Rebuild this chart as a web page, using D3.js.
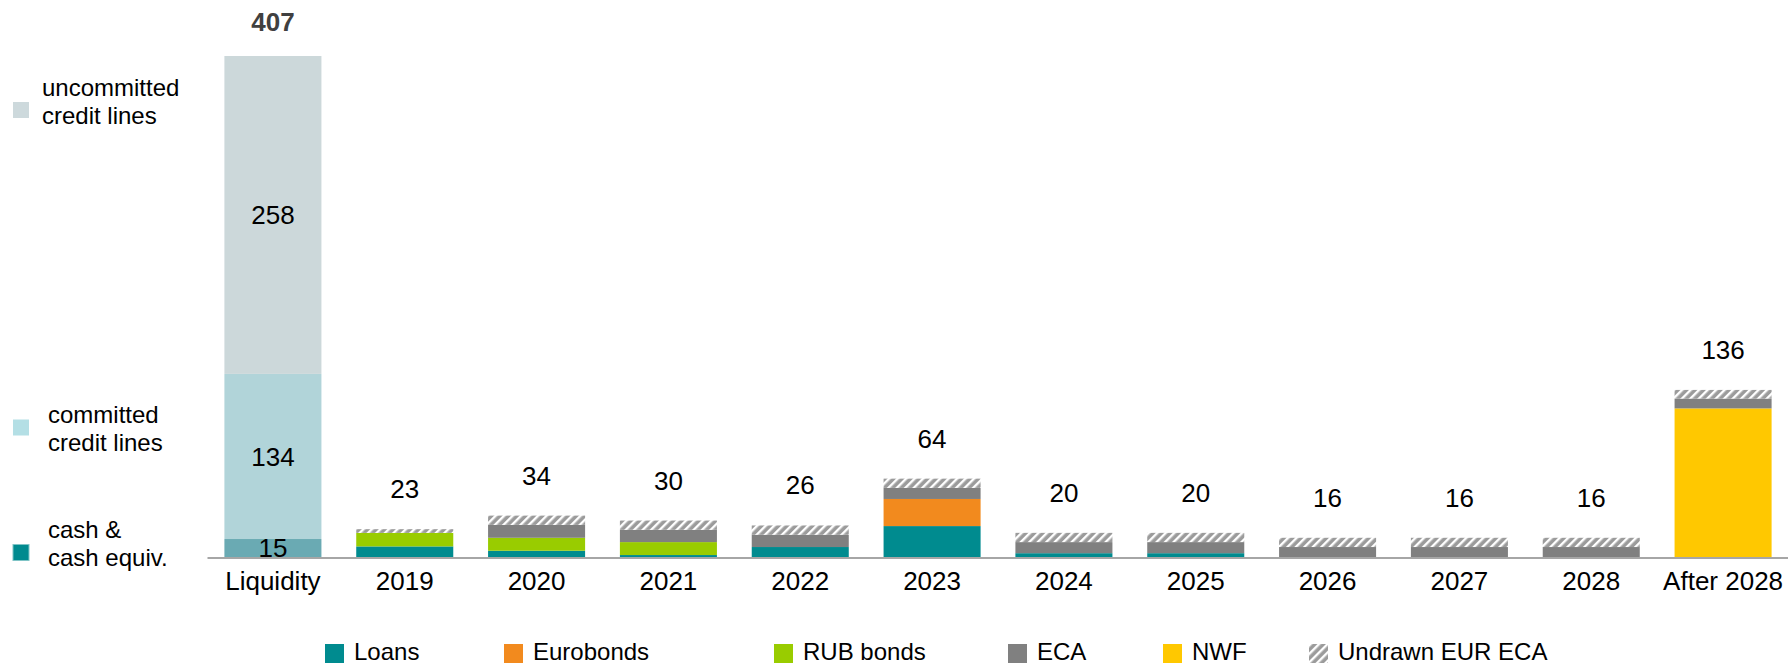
<!DOCTYPE html>
<html>
<head>
<meta charset="utf-8">
<script src="https://cdnjs.cloudflare.com/ajax/libs/d3/7.8.5/d3.min.js"></script>
<style>
  body { margin: 0; background: #fff; }
  svg text { font-family: "Liberation Sans", Arial, sans-serif; }
</style>
</head>
<body>
<div id="chart"></div>
<script>
// ---- data ----
const categories = ["Liquidity", "2019", "2020", "2021", "2022", "2023", "2024", "2025", "2026", "2027", "2028", "After 2028"];
const years = categories.slice(1);

// repayment schedule, per year
const loans     = [9, 5.5, 2, 8.5, 25.5, 3.5, 3.5, 0, 0, 0, 0];
const eurobonds = [0, 0, 0, 0, 22, 0, 0, 0, 0, 0, 0];
const rubBonds  = [11, 10.5, 10.5, 0, 0, 0, 0, 0, 0, 0, 0];
const nwf       = [0, 0, 0, 0, 0, 0, 0, 0, 0, 0, 121];
const eca       = [0, 10.5, 10, 10, 9, 9, 9, 8.5, 8.5, 8.5, 8];
const undrawn   = [3, 7.5, 7.5, 7.5, 7.5, 7.5, 7.5, 7.5, 7.5, 7.5, 7];
const totals    = [23, 34, 30, 26, 64, 20, 20, 16, 16, 16, 136];

// liquidity bar, bottom to top
const liquidityKeys   = ["cash", "committed", "uncommitted"];
const liquidityValues = [15, 134, 258];
const liquidityTotal  = 407;
const liquidityNames  = [["cash &", "cash equiv."], ["committed", "credit lines"], ["uncommitted", "credit lines"]];

const seriesKeys  = ["loans", "eurobonds", "rubBonds", "nwf", "eca", "undrawn"];
const legendOrder = ["loans", "eurobonds", "rubBonds", "eca", "nwf", "undrawn"];
const seriesNames = {loans: "Loans", eurobonds: "Eurobonds", rubBonds: "RUB bonds", eca: "ECA", nwf: "NWF", undrawn: "Undrawn EUR ECA"};

// ---- styles / layout ----
const colors = {loans: "#008b8f", eurobonds: "#f28a1e", rubBonds: "#99cc00", eca: "#808080", nwf: "#ffc800", undrawn: "url(#hatch)"};
const liquidityColors = {cash: "#6aaab3", committed: "#b1d4d9", uncommitted: "#ccd8da"};
const liquiditySwatch = {cash: "#008a8f", committed: "#b4dfe5", uncommitted: "#cdd9dc"};

const width = 1788, height = 666;
const baseY = 557.5;
const fontSize = 26;

let svg = d3.select("#chart").append("svg")
    .attr("width", width)
    .attr("height", height);

let defs = svg.append("defs");
let pattern = defs.append("pattern")
    .attr("id", "hatch")
    .attr("patternUnits", "userSpaceOnUse")
    .attr("width", 6)
    .attr("height", 6)
    .attr("patternTransform", "rotate(45)");
pattern.append("rect").attr("width", 6).attr("height", 6).attr("fill", "#9b9b9b");
pattern.append("rect").attr("x", 0).attr("width", 2.4).attr("height", 6).attr("fill", "#fff");

let xScale = d3.scaleBand()
    .domain(categories)
    .range([207, 1789])
    .paddingInner(0.264)
    .paddingOuter(0.132);

let yScale = d3.scaleLinear()
    .domain([0, liquidityTotal])
    .range([baseY, 56]);

// ---- liquidity bar ----
let liqRows = liquidityKeys.map((k, i) => ({key: k, value: liquidityValues[i]}));
let acc = 0;
liqRows.forEach(r => { r.y0 = acc; acc += r.value; r.y1 = acc; });

let liq = svg.append("g").attr("class", "liquidity");
liq.selectAll("rect").data(liqRows).enter().append("rect")
    .attr("x", xScale("Liquidity"))
    .attr("width", xScale.bandwidth())
    .attr("y", d => yScale(d.y1))
    .attr("height", d => yScale(d.y0) - yScale(d.y1))
    .attr("fill", d => liquidityColors[d.key]);

liq.selectAll("text.inner").data(liqRows).enter().append("text")
    .attr("class", "inner")
    .attr("x", xScale("Liquidity") + xScale.bandwidth() / 2)
    .attr("y", d => (yScale(d.y0) + yScale(d.y1)) / 2)
    .attr("dy", "0.35em")
    .attr("text-anchor", "middle")
    .attr("font-size", fontSize)
    .text(d => d.value);

liq.append("text")
    .attr("x", xScale("Liquidity") + xScale.bandwidth() / 2)
    .attr("y", yScale(liquidityTotal) - 25)
    .attr("text-anchor", "middle")
    .attr("font-size", fontSize)
    .attr("font-weight", "bold")
    .attr("fill", "#404040")
    .text(liquidityTotal);

// ---- maturity bars ----
let rows = years.map((yr, i) => ({
    year: yr, loans: loans[i], eurobonds: eurobonds[i], rubBonds: rubBonds[i],
    nwf: nwf[i], eca: eca[i], undrawn: undrawn[i], total: totals[i]
}));

let stacked = d3.stack().keys(seriesKeys)(rows);

let layers = svg.selectAll("g.layer").data(stacked).enter().append("g")
    .attr("class", "layer")
    .attr("fill", d => colors[d.key]);

layers.selectAll("rect").data(d => d.filter(s => s[1] - s[0] > 0)).enter().append("rect")
    .attr("x", d => xScale(d.data.year))
    .attr("width", xScale.bandwidth())
    .attr("y", d => yScale(d[1]))
    .attr("height", d => yScale(d[0]) - yScale(d[1]));

svg.selectAll("text.total").data(rows).enter().append("text")
    .attr("class", "total")
    .attr("x", d => xScale(d.year) + xScale.bandwidth() / 2)
    .attr("y", d => yScale(d.total) - 31)
    .attr("text-anchor", "middle")
    .attr("font-size", fontSize)
    .attr("fill", "#000")
    .text(d => d.total);

// ---- axis ----
let axisx = d3.axisBottom(xScale).tickSize(0).tickPadding(14);
let xAxis = svg.append("g")
    .attr("class", "xAxis")
    .attr("transform", "translate(0," + baseY + ")")
    .call(axisx);
xAxis.select(".domain").attr("stroke", "#a6a6a6").attr("stroke-width", 2);
xAxis.selectAll("text")
    .attr("font-size", fontSize)
    .attr("fill", "#000")
    .style("font-family", "'Liberation Sans', Arial, sans-serif");

// ---- left legend (liquidity) ----
const leftSwatchY = {uncommitted: 102, committed: 419.5, cash: 544.5};
const leftTextY   = {uncommitted: 96, committed: 423, cash: 538};
const leftTextX   = {uncommitted: 42, committed: 48, cash: 48};

let leftLegend = svg.append("g").attr("class", "leftLegend");
let li = leftLegend.selectAll("g").data(liquidityKeys).enter().append("g");
li.append("rect")
    .attr("x", 13)
    .attr("y", d => leftSwatchY[d])
    .attr("width", 16)
    .attr("height", 16)
    .attr("fill", d => liquiditySwatch[d])
    .attr("stroke", d => d == "cash" ? "#7fc4c6" : "none")
    .attr("stroke-width", 1);
li.append("text")
    .attr("x", d => leftTextX[d])
    .attr("y", d => leftTextY[d])
    .attr("font-size", 24)
    .selectAll("tspan").data(d => liquidityNames[liquidityKeys.indexOf(d)].map(t => ({t: t, k: d})))
    .enter().append("tspan")
    .attr("x", d => leftTextX[d.k])
    .attr("dy", (d, i) => i == 0 ? 0 : 27.5)
    .text(d => d.t);

// ---- bottom legend ----
const legendX = [325, 504, 774, 1008, 1163, 1309];
let legend = svg.append("g").attr("class", "legend");
let item = legend.selectAll("g").data(legendOrder).enter().append("g")
    .attr("transform", (d, i) => "translate(" + legendX[i] + ",644)");
item.append("rect")
    .attr("width", 19)
    .attr("height", 19)
    .attr("fill", d => colors[d]);
item.append("text")
    .attr("x", 29)
    .attr("y", 16)
    .attr("font-size", 24)
    .text(d => seriesNames[d]);
</script>
</body>
</html>
